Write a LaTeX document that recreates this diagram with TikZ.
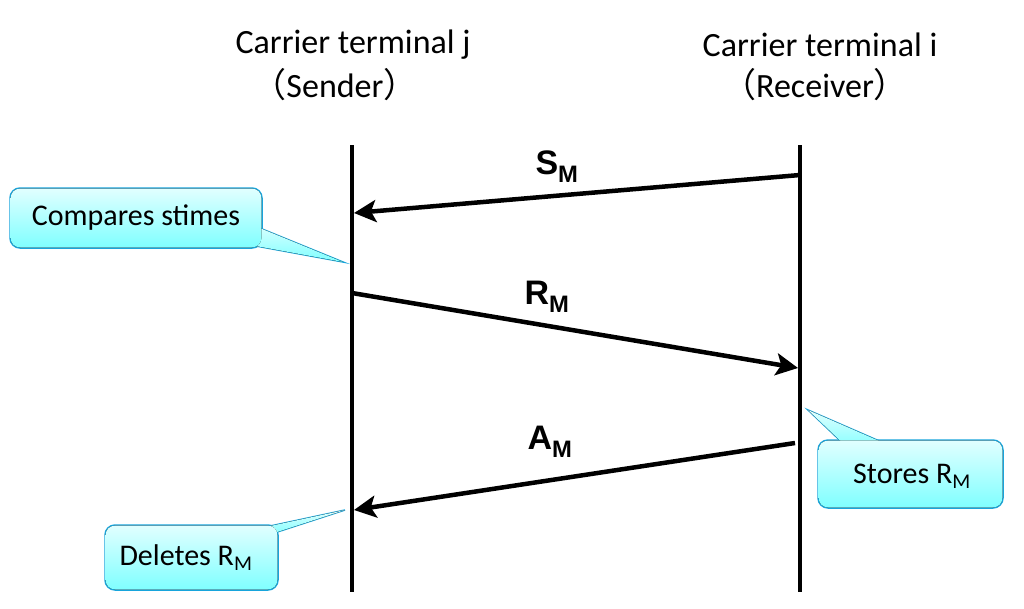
\documentclass[tikz,border=0pt]{standalone}
\usepackage{fontspec}
\usetikzlibrary{arrows.meta}
\setmainfont{Carlito}
\newfontfamily\cjk{Noto Sans CJK SC}
\newfontfamily\lbl{Liberation Sans}
\begin{document}
\begin{tikzpicture}[x=1pt,y=-1pt,
  life/.style={line width=4.5pt},
  msg/.style={line width=4.5pt,-{Stealth[length=22pt,width=22pt,inset=5pt]}},
  ttl/.style={font=\fontsize{34}{38}\selectfont},
  mlbl/.style={font=\lbl\bfseries\fontsize{34}{38}\selectfont},
  cl/.style={draw=cyan!80!teal,line width=1.5pt,rounded corners=10pt},
  cf/.style={top color=cyan!12,bottom color=cyan!50},
  ctext/.style={font=\fontsize{30}{34}\selectfont}]
\useasboundingbox (0,0) rectangle (1024,608);
\coordinate (j1) at (352,145); \coordinate (j2) at (352,592);
\coordinate (i1) at (800,145); \coordinate (i2) at (800,592);
\draw[life] (j1) -- (j2);
\draw[life] (i1) -- (i2);
\node[ttl] (tj) at (353,45) {Carrier terminal j};
\node[ttl] (tjs) at (335,85) {{\cjk （}Sender{\cjk ）}};
\node[ttl] (ti) at (820,45) {Carrier terminal i};
\node[ttl] (tis) at (815,85) {{\cjk （}Receiver{\cjk ）}};
\coordinate (s1) at (800,175); \coordinate (s2) at (354,213);
\coordinate (r1) at (352,293); \coordinate (r2) at (798,368);
\coordinate (a1) at (795,443); \coordinate (a2) at (354,510);
\draw[msg] (s1) -- (s2);
\draw[msg] (r1) -- (r2);
\draw[msg] (a1) -- (a2);
\node[mlbl] (ls) at (557,167) {S\textsubscript{M}};
\node[mlbl] (lr) at (547,297) {R\textsubscript{M}};
\node[mlbl] (la) at (550,442) {A\textsubscript{M}};
% callout 1
\draw[cl] (10,188) rectangle (262,248);
\draw[draw=cyan!80!teal,line width=1.5pt] (245,222) -- (343,262) -- (245,244);
\fill[cf] (245,222) -- (343,262) -- (245,244) -- cycle;
\fill[cf,rounded corners=9pt] (10.7,188.7) rectangle (261.3,247.3);
\node[ctext] (c1) at (136,218) {Compares stimes};
% callout 2
\draw[cl] (818,440) rectangle (1003,508);
\draw[draw=cyan!80!teal,line width=1.5pt] (850,450) -- (808,410) -- (900,450);
\fill[cf] (850,450) -- (808,410) -- (900,450) -- cycle;
\fill[cf,rounded corners=9pt] (818.7,440.7) rectangle (1002.3,507.3);
\node[ctext] (c2) at (912,476) {Stores R\textsubscript{M}};
% callout 3
\draw[cl] (105,525) rectangle (278,590);
\draw[draw=cyan!80!teal,line width=1.5pt] (228,535) -- (345,510) -- (268,535);
\fill[cf] (228,535) -- (345,510) -- (268,535) -- cycle;
\fill[cf,rounded corners=9pt] (105.7,525.7) rectangle (277.3,589.3);
\node[ctext] (c3) at (186,558) {Deletes R\textsubscript{M}};
\end{tikzpicture}
\end{document}
